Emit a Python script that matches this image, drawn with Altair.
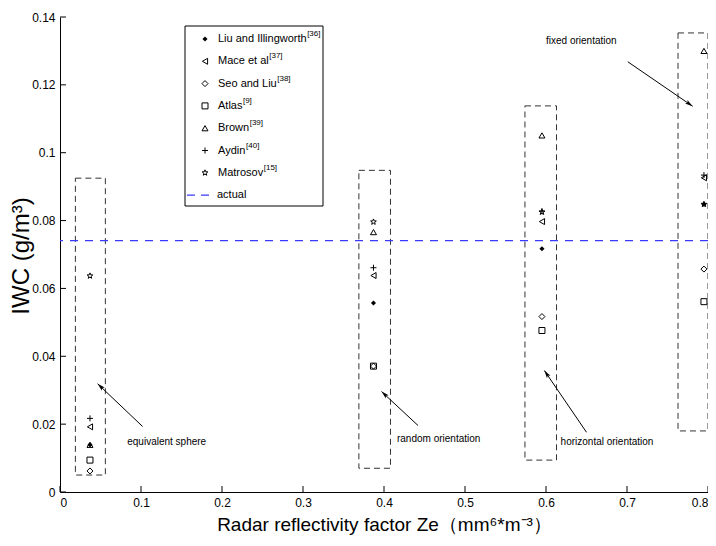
import math
import altair as alt
import pandas as pd

# ---------------- data ----------------
series_names = ["Liu and Illingworth", "Mace et al", "Seo and Liu", "Atlas", "Brown", "Aydin", "Matrosov"]
series_refs = ["[36]", "[37]", "[38]", "[9]", "[39]", "[40]", "[15]"]
cluster_x = [0.037, 0.387, 0.595, 0.795]
liu = [0.0139, 0.0557, 0.0717, 0.0848]
mace = [0.0192, 0.0638, 0.0797, 0.0926]
seo = [0.0062, 0.0371, 0.0517, 0.0657]
atlas = [0.0094, 0.0371, 0.0476, 0.0561]
brown = [0.0139, 0.0766, 0.1051, 0.1300]
aydin = [0.0217, 0.0661, 0.0828, 0.0934]
matrosov = [0.0637, 0.0796, 0.0825, 0.0848]
actual_iwc = 0.0741

box_x1 = [0.019, 0.369, 0.574, 0.763]
box_x2 = [0.056, 0.408, 0.613, 0.800]
box_y1 = [0.0050, 0.0070, 0.0094, 0.0180]
box_y2 = [0.0925, 0.0948, 0.1138, 0.1353]

annot_text = ["equivalent sphere", "random orientation", "horizontal orientation", "fixed orientation"]
annot_x = [0.083, 0.416, 0.618, 0.600]
annot_y = [0.0147, 0.0156, 0.0147, 0.1328]
arrow_tail_x = [0.102, 0.442, 0.650, 0.701]
arrow_tail_y = [0.0193, 0.0196, 0.0176, 0.1268]
arrow_head_x = [0.0465, 0.397, 0.598, 0.781]
arrow_head_y = [0.0319, 0.0296, 0.0358, 0.1137]

x_ticks = [0, 0.1, 0.2, 0.3, 0.4, 0.5, 0.6, 0.7, 0.8]
y_ticks = [0, 0.02, 0.04, 0.06, 0.08, 0.1, 0.12, 0.14]

# ---------------- layout / style ----------------
W, H = 648, 475
X_DOM, Y_DOM = [0, 0.8], [0, 0.14]
FONT = "Liberation Sans, Arial, sans-serif"

# Arial / Liberation Sans advance widths (per 1000 em) for placing superscripts
AW = {" ": 278, "a": 556, "b": 556, "c": 500, "d": 556, "e": 556, "f": 278, "g": 556, "h": 556, "i": 222,
      "k": 500, "l": 222, "m": 833, "n": 556, "o": 556, "p": 556, "r": 333, "s": 500, "t": 278, "u": 556,
      "v": 500, "w": 722, "y": 500, "A": 667, "B": 667, "I": 278, "L": 556, "M": 833, "S": 667}


def text_w(s, fs):
    return sum(AW.get(c, 556) for c in s) * fs / 1000.0


def star_path(r_out=1.0, r_in=0.42):
    pts = []
    for k in range(10):
        r = r_out if k % 2 == 0 else r_in
        a = math.pi * k / 5
        pts.append((r * math.sin(a), -r * math.cos(a)))
    return "M" + "L".join(f"{px:.3f},{py:.3f}" for px, py in pts) + "Z"


PLUS = "M-1,0L1,0M0,-1L0,1"
open_names = series_names[1:]
open_shapes = ["triangle-left", "diamond", "square", "triangle-up", PLUS, star_path()]

series_vals = [liu, mace, seo, atlas, brown, aydin, matrosov]
pts = pd.DataFrame(
    [{"series": s, "x": cluster_x[i], "y": v[i]} for s, v in zip(series_names, series_vals) for i in range(len(cluster_x))]
)
boxes = pd.DataFrame({"x1": box_x1, "x2": box_x2, "y1": box_y1, "y2": box_y2})

sx = W / (X_DOM[1] - X_DOM[0])
sy = H / (Y_DOM[1] - Y_DOM[0])
angles = []
for i in range(len(arrow_head_x)):
    dx = (arrow_head_x[i] - arrow_tail_x[i]) * sx
    dy = -(arrow_head_y[i] - arrow_tail_y[i]) * sy
    angles.append(math.degrees(math.atan2(dx, -dy)) % 360)
arrows = pd.DataFrame({"tx": arrow_tail_x, "ty": arrow_tail_y, "hx": arrow_head_x, "hy": arrow_head_y, "ang": angles})
annots = pd.DataFrame({"t": annot_text, "x": annot_x, "y": annot_y})

xs = alt.Scale(domain=X_DOM, nice=False, zero=False)
ys = alt.Scale(domain=Y_DOM, nice=False, zero=False)

base = alt.Chart(pts)

xaxis = alt.Axis(values=x_ticks, format="~g", title="Radar reflectivity factor Ze（mm⁶*m⁻³）",
                 labelFontSize=12, titleFontSize=19, labelPadding=5, titlePadding=7)
yaxis = alt.Axis(values=y_ticks, format="~g", title="IWC (g/m³)",
                 labelFontSize=12, titleFontSize=24, labelPadding=5, titleX=-27, titleY=H / 2 + 1)

open_pts = base.transform_filter(alt.FieldOneOfPredicate(field="series", oneOf=open_names)).mark_point(
    filled=False, color="black", strokeWidth=1, size=36, opacity=1
).encode(
    x=alt.X("x:Q", scale=xs, axis=xaxis),
    y=alt.Y("y:Q", scale=ys, axis=yaxis),
    shape=alt.Shape("series:N", scale=alt.Scale(domain=open_names, range=open_shapes), legend=None),
)
liu_pts = base.transform_filter(alt.datum.series == series_names[0]).mark_point(
    filled=True, color="black", shape="diamond", size=26, opacity=1
).encode(x=alt.X("x:Q", scale=xs), y=alt.Y("y:Q", scale=ys))

box_layer = alt.Chart(boxes).mark_rect(fill=None, stroke="#333333", strokeWidth=1, strokeDash=[6, 4]).encode(
    x=alt.X("x1:Q", scale=xs), x2="x2:Q", y=alt.Y("y1:Q", scale=ys), y2="y2:Q"
)

actual_layer = alt.Chart(pd.DataFrame({"a": [actual_iwc]})).mark_rule(
    color="#3a3aff", strokeWidth=1.3, strokeDash=[8, 7]
).encode(y=alt.Y("a:Q", scale=ys))

arrow_lines = alt.Chart(arrows).mark_rule(color="black", strokeWidth=1).encode(
    x=alt.X("tx:Q", scale=xs), y=alt.Y("ty:Q", scale=ys), x2="hx:Q", y2="hy:Q"
)
arrow_heads = alt.Chart(arrows).mark_point(
    shape="M0,0L0.55,2L0,1.55L-0.55,2Z", filled=True, color="black", size=60, opacity=1
).encode(x=alt.X("hx:Q", scale=xs), y=alt.Y("hy:Q", scale=ys), angle=alt.Angle("ang:Q", scale=None))

annot_layer = alt.Chart(annots).mark_text(align="left", baseline="middle", font=FONT, fontSize=10, color="black").encode(
    x=alt.X("x:Q", scale=xs), y=alt.Y("y:Q", scale=ys), text="t:N"
)

# inward ticks (MATLAB style)
xt = alt.Chart(pd.DataFrame({"v": x_ticks})).mark_rule(color="black", strokeWidth=1).encode(
    x=alt.X("v:Q", scale=xs), y=alt.value(H), y2=alt.value(H - 6)
)
yt = alt.Chart(pd.DataFrame({"v": y_ticks})).mark_rule(color="black", strokeWidth=1).encode(
    y=alt.Y("v:Q", scale=ys), x=alt.value(0), x2=alt.value(6)
)

# legend (manual, pixel layout inside plot area)
LEG_X0, LEG_X1, LEG_Y0, LEG_Y1 = 125, 263, 9, 189
LEG_ROW0, LEG_STEP = 22, 22.3
LEG_FS, SUP_FS, TXT_X = 11, 8, 158
leg = pd.DataFrame({
    "series": series_names,
    "ref": series_refs,
    "py": [LEG_ROW0 + i * LEG_STEP for i in range(len(series_names))],
    "sx": [TXT_X + text_w(s, LEG_FS) + 0.5 for s in series_names],
})
leg["spy"] = leg["py"] - 5
leg_box = alt.Chart(pd.DataFrame({"d": [0]})).mark_rect(fill="white", stroke="black", strokeWidth=1).encode(
    x=alt.value(LEG_X0), x2=alt.value(LEG_X1), y=alt.value(LEG_Y0), y2=alt.value(LEG_Y1)
)
leg_open = alt.Chart(leg).transform_filter(alt.FieldOneOfPredicate(field="series", oneOf=open_names)).mark_point(
    filled=False, color="black", strokeWidth=1, size=36, opacity=1
).encode(
    x=alt.value(145), y=alt.Y("py:Q", scale=None),
    shape=alt.Shape("series:N", scale=alt.Scale(domain=open_names, range=open_shapes), legend=None),
)
leg_liu = alt.Chart(leg).transform_filter(alt.datum.series == series_names[0]).mark_point(
    filled=True, color="black", shape="diamond", size=26, opacity=1
).encode(x=alt.value(145), y=alt.Y("py:Q", scale=None))
leg_text = alt.Chart(leg).mark_text(align="left", baseline="middle", font=FONT, fontSize=LEG_FS, color="black").encode(
    x=alt.value(TXT_X), y=alt.Y("py:Q", scale=None), text="series:N"
)
leg_sup = alt.Chart(leg).mark_text(align="left", baseline="middle", font=FONT, fontSize=SUP_FS, color="black").encode(
    x=alt.X("sx:Q", scale=None), y=alt.Y("spy:Q", scale=None), text="ref:N"
)
act_py = LEG_ROW0 + len(series_names) * LEG_STEP
leg_act_line = alt.Chart(pd.DataFrame({"d": [0]})).mark_rule(color="#3a3aff", strokeWidth=1.3, strokeDash=[8, 6]).encode(
    x=alt.value(127), x2=alt.value(155), y=alt.value(act_py)
)
leg_act_text = alt.Chart(pd.DataFrame({"t": ["actual"]})).mark_text(
    align="left", baseline="middle", font=FONT, fontSize=LEG_FS, color="black"
).encode(x=alt.value(157), y=alt.value(act_py), text="t:N")

chart = alt.layer(
    box_layer, actual_layer, arrow_lines, arrow_heads, annot_layer, open_pts, liu_pts, xt, yt,
    leg_box, leg_open, leg_liu, leg_text, leg_sup, leg_act_line, leg_act_text,
).properties(
    width=W, height=H,
    padding={"left": 52, "top": 9, "right": 0, "bottom": 47},
    autosize=alt.AutoSizeParams(type="none"),
).configure_view(stroke=None).configure_axis(
    grid=False, ticks=False, domainColor="black", domainWidth=1,
    labelFont=FONT, titleFont=FONT, labelColor="black", titleColor="black", titleFontWeight="normal",
)

chart.save("out.html", embed_options={"renderer": "svg", "actions": False})
